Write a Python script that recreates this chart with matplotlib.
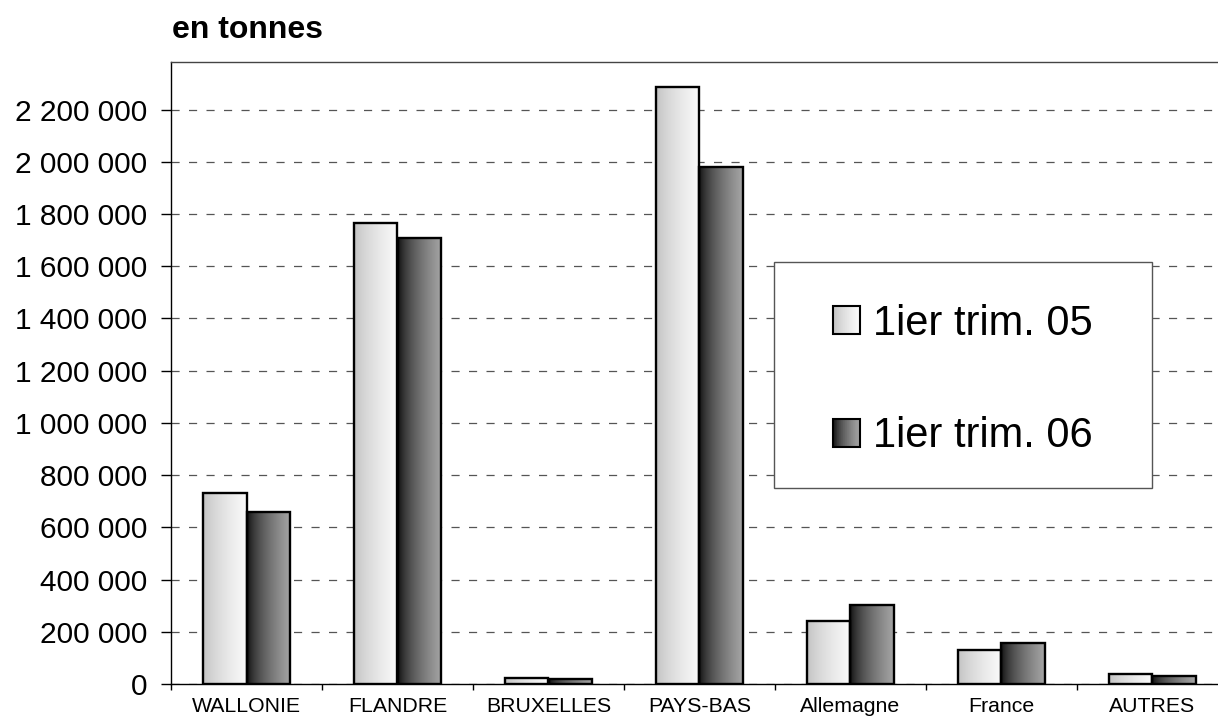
import numpy as np
import matplotlib
matplotlib.use("Agg")
import matplotlib.pyplot as plt
from matplotlib.patches import Rectangle, Patch
from matplotlib.legend_handler import HandlerBase
from matplotlib.ticker import FuncFormatter

plt.rcParams['font.family'] = ['Liberation Sans', 'DejaVu Sans']

# ---------------- data ----------------
categories = ["WALLONIE", "FLANDRE", "BRUXELLES", "PAYS-BAS", "Allemagne", "France", "AUTRES"]
series_names = ["1ier trim. 05", "1ier trim. 06"]
values_05 = [730000, 1764000, 24000, 2285000, 240000, 131000, 39000]
values_06 = [659000, 1708000, 20000, 1981000, 301000, 156000, 31000]
ytick_values = list(range(0, 2200001, 200000))
y_max = 2382000
title_text = "en tonnes"

# ---------------- figure ----------------
W, H = 1218, 724
fig = plt.figure(figsize=(W / 100, H / 100), dpi=100)
fig.patch.set_facecolor("white")
ax = fig.add_axes([171 / W, 1 - 684 / H, 1057 / W, 622 / H])

t = np.linspace(0, 1, 256)
light_vals = 0.75 + (0.985 - 0.75) * t ** 0.7
dark_vals = 0.02 + (0.65 - 0.02) * t ** 0.6

x = np.arange(len(categories))
bw = 0.285
bars05 = ax.bar(x - bw / 2, values_05, bw, facecolor="none", edgecolor="black",
                linewidth=1.7, zorder=3)
bars06 = ax.bar(x + bw / 2, values_06, bw, facecolor="none", edgecolor="black",
                linewidth=1.7, zorder=3)

for bars, vals in ((bars05, light_vals), (bars06, dark_vals)):
    img = np.dstack([vals, vals, vals]).reshape(1, -1, 3)
    for b in bars:
        x0, y0, w, h = b.get_x(), b.get_y(), b.get_width(), b.get_height()
        ax.imshow(img, extent=[x0, x0 + w, y0, y0 + h], aspect="auto",
                  interpolation="bilinear", zorder=2.5)

ax.set_xlim(-0.5, len(categories) - 0.5)
ax.set_ylim(0, y_max)

# grid
ax.set_yticks(ytick_values)
ax.yaxis.set_major_formatter(FuncFormatter(lambda v, p: f"{int(round(v)):,}".replace(",", " ")))
ax.grid(axis="y", color="#555555", linewidth=0.9, linestyle=(0, (6.5, 7.5)))
ax.set_axisbelow(True)

# x ticks: boundaries (major) + labels (minor)
ax.set_xticks(np.arange(-0.5, len(categories), 1))
ax.set_xticklabels([])
ax.set_xticks(x, labels=categories, minor=True)
ax.tick_params(axis="x", which="major", length=4.5, width=1, direction="out", color="black")
ax.tick_params(axis="x", which="minor", length=0, pad=9, labelsize=15.3)
ax.tick_params(axis="y", length=7, width=1, direction="out", pad=10, labelsize=21.5)

for s in ("left", "bottom"):
    ax.spines[s].set_color("black")
    ax.spines[s].set_linewidth(1.0)
ax.spines["top"].set_color("#444444")
ax.spines["top"].set_linewidth(1.0)
ax.spines["right"].set_visible(False)


# legend with gradient handles
class GradHandler(HandlerBase):
    def __init__(self, vals):
        super().__init__()
        self.vals = vals

    def create_artists(self, legend, orig_handle, xdescent, ydescent, width, height,
                       fontsize, trans):
        arts = []
        n = 40
        idx = np.linspace(0, len(self.vals) - 1, n).astype(int)
        for i in range(n):
            v = float(self.vals[idx[i]])
            arts.append(Rectangle((-xdescent + i * width / n, -ydescent), width / n + 0.3,
                                  height, facecolor=(v, v, v), edgecolor="none",
                                  transform=trans))
        arts.append(Rectangle((-xdescent, -ydescent), width, height, fill=False,
                              edgecolor="black", linewidth=1.5, transform=trans))
        return arts


h05 = Patch(facecolor="white")
h06 = Patch(facecolor="gray")

box = Rectangle((774 / W, 1 - 488.3 / H), (1152 - 774) / W, (488.3 - 262.3) / H,
                transform=fig.transFigure, facecolor="white", edgecolor="#555555",
                linewidth=1.0, zorder=4, clip_on=False)
ax.add_patch(box)

leg = ax.legend([h05, h06], series_names, loc="center",
                bbox_to_anchor=(963 / W, 1 - 380 / H), bbox_transform=fig.transFigure,
                frameon=False, fontsize=30, handlelength=0.65, handleheight=0.65,
                handletextpad=0.31, labelspacing=1.74, borderpad=0,
                handler_map={h05: GradHandler(light_vals), h06: GradHandler(dark_vals)})
leg.set_zorder(5)

fig.text(172 / W, 1 - 38 / H, title_text, fontsize=23, fontweight="bold",
         ha="left", va="baseline")

fig.savefig("out.png", dpi=100)
